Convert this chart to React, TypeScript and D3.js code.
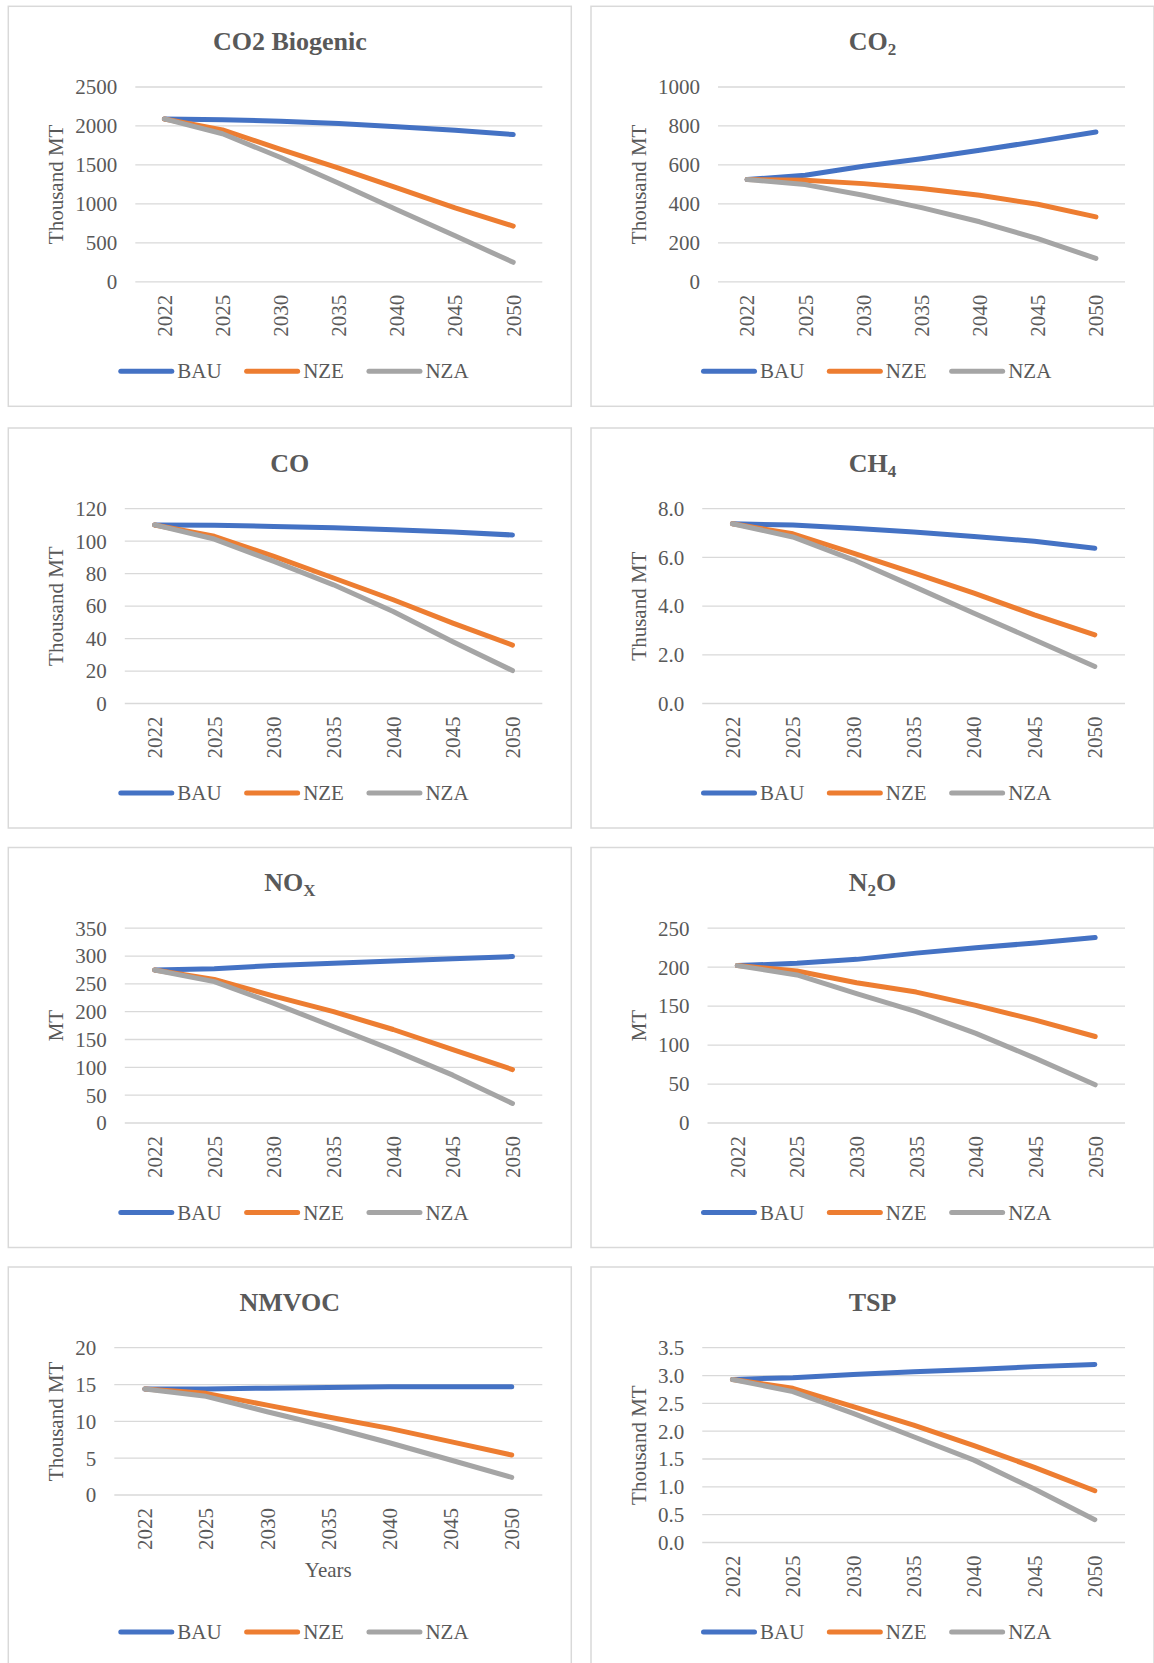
import React from 'react';
import * as d3 from 'd3';

const YEARS = ['2022', '2025', '2030', '2035', '2040', '2045', '2050'];
const SERIES = ['BAU', 'NZE', 'NZA'];
const COLORS = ['#4472C4', '#ED7D31', '#A5A5A5'];

// CO2 Biogenic, Thousand MT
const co2BioBAU = [2090, 2080, 2060, 2030, 1990, 1945, 1890];
const co2BioNZE = [2090, 1950, 1700, 1460, 1205, 950, 715];
const co2BioNZA = [2090, 1900, 1595, 1265, 925, 590, 250];
const co2BioTicks = [0, 500, 1000, 1500, 2000, 2500];

// CO2, Thousand MT
const co2BAU = [525, 547, 593, 632, 675, 721, 769];
const co2NZE = [525, 521, 504, 479, 444, 398, 333];
const co2NZA = [525, 499, 444, 381, 308, 222, 120];
const co2Ticks = [0, 200, 400, 600, 800, 1000];

// CO, Thousand MT
const coBAU = [110, 109.8, 109.1, 108.3, 107, 105.6, 103.8];
const coNZE = [110, 103, 90.6, 77.3, 63.9, 49.5, 36];
const coNZA = [110, 101.3, 87.5, 73.1, 56.7, 38, 20.3];
const coTicks = [0, 20, 40, 60, 80, 100, 120];

// CH4, Thousand MT
const ch4BAU = [7.38, 7.33, 7.2, 7.04, 6.86, 6.66, 6.38];
const ch4NZE = [7.38, 6.97, 6.18, 5.36, 4.53, 3.64, 2.82];
const ch4NZA = [7.38, 6.84, 5.9, 4.81, 3.71, 2.62, 1.52];
const ch4Ticks = [0, 2, 4, 6, 8];

// NOx, MT
const noxBAU = [275, 277, 283, 287, 291, 295, 299];
const noxNZE = [275, 258, 228, 200, 168, 132, 96];
const noxNZA = [275, 254, 215, 173, 131, 86, 35];
const noxTicks = [0, 50, 100, 150, 200, 250, 300, 350];

// N2O, MT
const n2oBAU = [202, 205, 210, 218, 225, 231, 238];
const n2oNZE = [202, 195, 180, 168, 151, 132, 111];
const n2oNZA = [202, 190, 166, 143, 115, 83, 49];
const n2oTicks = [0, 50, 100, 150, 200, 250];

// NMVOC, Thousand MT
const nmvocBAU = [14.4, 14.4, 14.5, 14.6, 14.7, 14.7, 14.7];
const nmvocNZE = [14.4, 13.8, 12.2, 10.6, 9.05, 7.24, 5.43];
const nmvocNZA = [14.4, 13.4, 11.3, 9.3, 7.1, 4.75, 2.4];
const nmvocTicks = [0, 5, 10, 15, 20];

// TSP, Thousand MT
const tspBAU = [2.93, 2.96, 3.02, 3.07, 3.11, 3.16, 3.2];
const tspNZE = [2.93, 2.77, 2.44, 2.11, 1.74, 1.35, 0.93];
const tspNZA = [2.93, 2.71, 2.32, 1.9, 1.48, 0.96, 0.41];
const tspTicks = [0, 0.5, 1, 1.5, 2, 2.5, 3, 3.5];

const intFmt = d3.format('d');
const oneDec = d3.format('.1f');

// title pieces: [text, isSubscript]
const panels = [
  { title: [['CO2 Biogenic', false]], unit: 'Thousand MT', ticks: co2BioTicks, fmt: intFmt, data: [co2BioBAU, co2BioNZE, co2BioNZA] },
  { title: [['CO', false], ['2', true]], unit: 'Thousand MT', ticks: co2Ticks, fmt: intFmt, data: [co2BAU, co2NZE, co2NZA] },
  { title: [['CO', false]], unit: 'Thousand MT', ticks: coTicks, fmt: intFmt, data: [coBAU, coNZE, coNZA] },
  { title: [['CH', false], ['4', true]], unit: 'Thusand MT', ticks: ch4Ticks, fmt: oneDec, data: [ch4BAU, ch4NZE, ch4NZA] },
  { title: [['NO', false], ['X', true]], unit: 'MT', ticks: noxTicks, fmt: intFmt, data: [noxBAU, noxNZE, noxNZA] },
  { title: [['N', false], ['2', true], ['O', false]], unit: 'MT', ticks: n2oTicks, fmt: intFmt, data: [n2oBAU, n2oNZE, n2oNZA] },
  { title: [['NMVOC', false]], unit: 'Thousand MT', ticks: nmvocTicks, fmt: intFmt, data: [nmvocBAU, nmvocNZE, nmvocNZA], xTitle: 'Years' },
  { title: [['TSP', false]], unit: 'Thousand MT', ticks: tspTicks, fmt: oneDec, data: [tspBAU, tspNZE, tspNZA] },
];

const W = 1154;
const H = 1663;
const FONT = "'Times New Roman', 'Liberation Serif', Tinos, serif";
const TEXT = '#595959';
const GRID = '#D9D9D9';
const FS = 21;

const COL_X = [8.3, 591];
const ROW_Y = [6.3, 428, 847.5, 1267];
const PANEL_W = 563;
const PANEL_H = 400;

// rough Times advance widths (em) for layout
const CHAR_W: Record<string, number> = {
  '.': 0.25, B: 0.667, A: 0.722, U: 0.722, N: 0.722, Z: 0.611, E: 0.611,
};
const textWidth = (s: string, fs: number) =>
  s.split('').reduce((acc, c) => acc + (CHAR_W[c] ?? 0.5), 0) * fs;

function Panel({ p, x0, y0 }: any) {
  const labels = p.ticks.map(p.fmt);
  const maxW = d3.max(labels, (l: string) => textWidth(l, FS)) as number;
  const left = x0 + 85 + maxW;
  const right = x0 + 534;
  const top = y0 + 80.7;
  const bottom = y0 + (p.xTitle ? 228 : 275.5);

  const x = d3.scaleBand().domain(YEARS).range([left, right]);
  const y = d3.scaleLinear()
    .domain([p.ticks[0], p.ticks[p.ticks.length - 1]])
    .range([bottom, top]);
  const cx = (yr: string) => (x(yr) as number) + x.bandwidth() / 2;
  const line = d3.line<number>().x((d, i) => cx(YEARS[i])).y(d => y(d));

  const midX = x0 + PANEL_W / 2;

  // legend layout
  let lx = x0 + 110;
  const legend = SERIES.map((s, i) => {
    const item = { name: s, color: COLORS[i], x: lx };
    lx += 56 + 3 + textWidth(s, FS) + 22.5;
    return item;
  });
  const legY = y0 + 365;

  return (
    <g>
      <rect x={x0} y={y0} width={PANEL_W} height={PANEL_H} fill="#fff" stroke={GRID} strokeWidth={1.5} />

      <text x={midX} y={y0 + 43.7} textAnchor="middle" fontFamily={FONT} fontWeight="bold" fontSize={26} fill={TEXT}>
        {p.title.map(([t, sub]: [string, boolean], i: number) => {
          const prevSub = i > 0 && p.title[i - 1][1];
          const dy = sub ? 5 : prevSub ? -5 : 0;
          return (
            <tspan key={i} fontSize={sub ? 17 : 26} dy={dy}>{t}</tspan>
          );
        })}
      </text>

      {p.ticks.map((t: number, i: number) => (
        <g key={i}>
          <line x1={left} x2={right} y1={y(t)} y2={y(t)} stroke={GRID} strokeWidth={1.3} />
          <text x={left - 18} y={y(t)} dy="0.35em" textAnchor="end" fontFamily={FONT} fontSize={FS} fill={TEXT}>
            {labels[i]}
          </text>
        </g>
      ))}

      {YEARS.map(yr => (
        <text key={yr} transform={`translate(${cx(yr)},${bottom + 13}) rotate(-90)`} dy="0.35em"
          textAnchor="end" fontFamily={FONT} fontSize={FS} fill={TEXT}>
          {yr}
        </text>
      ))}

      <text transform={`translate(${x0 + 55},${(top + bottom) / 2}) rotate(-90)`} textAnchor="middle"
        fontFamily={FONT} fontSize={FS} fill={TEXT}>
        {p.unit}
      </text>

      {p.xTitle && (
        <text x={(left + right) / 2} y={y0 + 310} textAnchor="middle" fontFamily={FONT} fontSize={FS} fill={TEXT}>
          {p.xTitle}
        </text>
      )}

      {p.data.map((vals: number[], i: number) => (
        <path key={i} d={line(vals) as string} fill="none" stroke={COLORS[i]} strokeWidth={5}
          strokeLinecap="round" strokeLinejoin="round" />
      ))}

      {legend.map(it => (
        <g key={it.name}>
          <line x1={it.x + 2.5} x2={it.x + 53.5} y1={legY} y2={legY} stroke={it.color} strokeWidth={5} strokeLinecap="round" />
          <text x={it.x + 59} y={legY} dy="0.34em" fontFamily={FONT} fontSize={FS} fill={TEXT}>{it.name}</text>
        </g>
      ))}
    </g>
  );
}

export default function App() {
  return (
    <svg width={W} height={H} viewBox={`0 0 ${W} ${H}`}
      style={{ position: 'absolute', left: 0, top: 0, display: 'block', background: '#fff' }}>
      <rect width={W} height={H} fill="#fff" />
      {panels.map((p, i) => (
        <Panel key={i} p={p} x0={COL_X[i % 2]} y0={ROW_Y[Math.floor(i / 2)]} />
      ))}
    </svg>
  );
}
